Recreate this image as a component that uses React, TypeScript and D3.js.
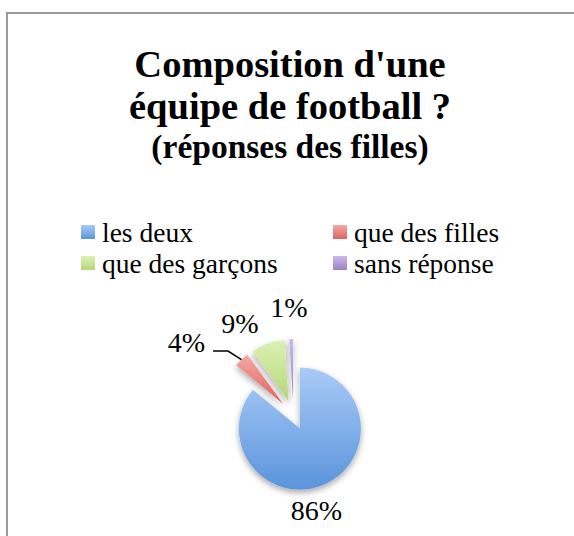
import React from "react";
import * as d3 from "d3";

const categories = ["les deux", "que des filles", "que des garçons", "sans réponse"];
const values = [86, 4, 9, 1];
const percentLabels = ["86%", "4%", "9%", "1%"];
const titleLines = ["Composition d'une", "équipe de football ?", "(réponses des filles)"];

// styling / layout (not data)
const gradTop = ["#a9cbf7", "#f6a8a5", "#dcf1b2", "#cdb9ea"];
const gradBottom = ["#5a94dc", "#dc625e", "#b6d67c", "#9b80c8"];
const W = 574;
const H = 536;
const cx = 293.5;
const cy = 415;
const radius = 61;
const explode = 15;
// label offsets relative to the pie centre (dx, dy of text centre)
const labelOffsets: [number, number][] = [
  [23, 97],
  [-107, -71],
  [-53.5, -90],
  [-4.5, -106],
];

export default function App() {
  const pie = d3.pie<number>().sort(null).value((d) => d);
  const arcs = pie(values);
  const arcGen = d3.arc<d3.PieArcDatum<number>>().innerRadius(0).outerRadius(radius);
  const font = "'Liberation Serif', 'Times New Roman', serif";

  const legendX = d3.scaleOrdinal<number, number>().domain([0, 1]).range([81, 333]);
  const legendY = d3.scaleOrdinal<number, number>().domain([0, 1]).range([242, 273]);

  // leader line for small slice "que des filles"
  const red = arcs[1];
  const redMid = (red.startAngle + red.endAngle) / 2;
  const lp = {
    x: cx + Math.sin(redMid) * (explode + radius),
    y: cy - Math.cos(redMid) * (explode + radius),
  };
  const lbl = labelOffsets[1];

  return (
    <svg
      width={W}
      height={H}
      style={{ position: "absolute", left: 0, top: 0, background: "#fff" }}
      fontFamily={font}
    >
      <defs>
        {categories.map((c, i) => (
          <linearGradient key={c} id={`g${i}`} x1="0" y1="0" x2="0" y2="1">
            <stop offset="0" stopColor={gradTop[i]} />
            <stop offset="1" stopColor={gradBottom[i]} />
          </linearGradient>
        ))}
        <filter id="shadow" x="-30%" y="-30%" width="160%" height="160%">
          <feDropShadow dx="0" dy="3" stdDeviation="3" floodColor="#000" floodOpacity="0.35" />
        </filter>
      </defs>
      <rect x={0} y={0} width={W} height={H} fill="#fff" />
      <rect x={7} y={13} width={W + 20} height={H + 20} fill="#fff" stroke="#9a9a9a" strokeWidth={2} />

      {/* Title */}
      <text x={290} y={77} textAnchor="middle" fontWeight="bold" fontSize={38.5} fill="#000">
        {titleLines[0]}
      </text>
      <text x={290} y={119} textAnchor="middle" fontWeight="bold" fontSize={38.5} fill="#000">
        {titleLines[1]}
      </text>
      <text x={290} y={158} textAnchor="middle" fontWeight="bold" fontSize={33.5} fill="#000">
        {titleLines[2]}
      </text>

      {/* Legend */}
      {categories.map((c, i) => {
        const col = i % 2;
        const row = Math.floor(i / 2);
        const order = [0, 1, 2, 3];
        const x = legendX(col);
        const y = legendY(row);
        return (
          <g key={c}>
            <rect x={x} y={y - 17} width={14} height={14} fill={`url(#g${order[i]})`} />
            <text x={x + 21} y={y} fontSize={27.5} fill="#000">
              {c}
            </text>
          </g>
        );
      })}

      {/* Pie */}
      <g filter="url(#shadow)">
        {arcs.map((a, i) => {
          const mid = (a.startAngle + a.endAngle) / 2;
          const tx = cx + Math.sin(mid) * explode;
          const ty = cy - Math.cos(mid) * explode;
          return (
            <path
              key={i}
              d={arcGen(a) || ""}
              transform={`translate(${tx},${ty})`}
              fill={`url(#g${i})`}
            />
          );
        })}
      </g>

      {/* leader line */}
      <polyline
        points={`${lp.x},${lp.y} ${cx + lbl[0] + 41.5},${cy + lbl[1] + 7} ${cx + lbl[0] + 26.5},${cy + lbl[1] + 7}`}
        fill="none"
        stroke="#000"
        strokeWidth={1.5}
      />

      {/* Percent labels */}
      {arcs.map((a, i) => (
        <text
          key={i}
          x={cx + labelOffsets[i][0]}
          y={cy + labelOffsets[i][1] + 8}
          textAnchor="middle"
          fontSize={28}
          fill="#000"
        >
          {percentLabels[i]}
        </text>
      ))}
    </svg>
  );
}
